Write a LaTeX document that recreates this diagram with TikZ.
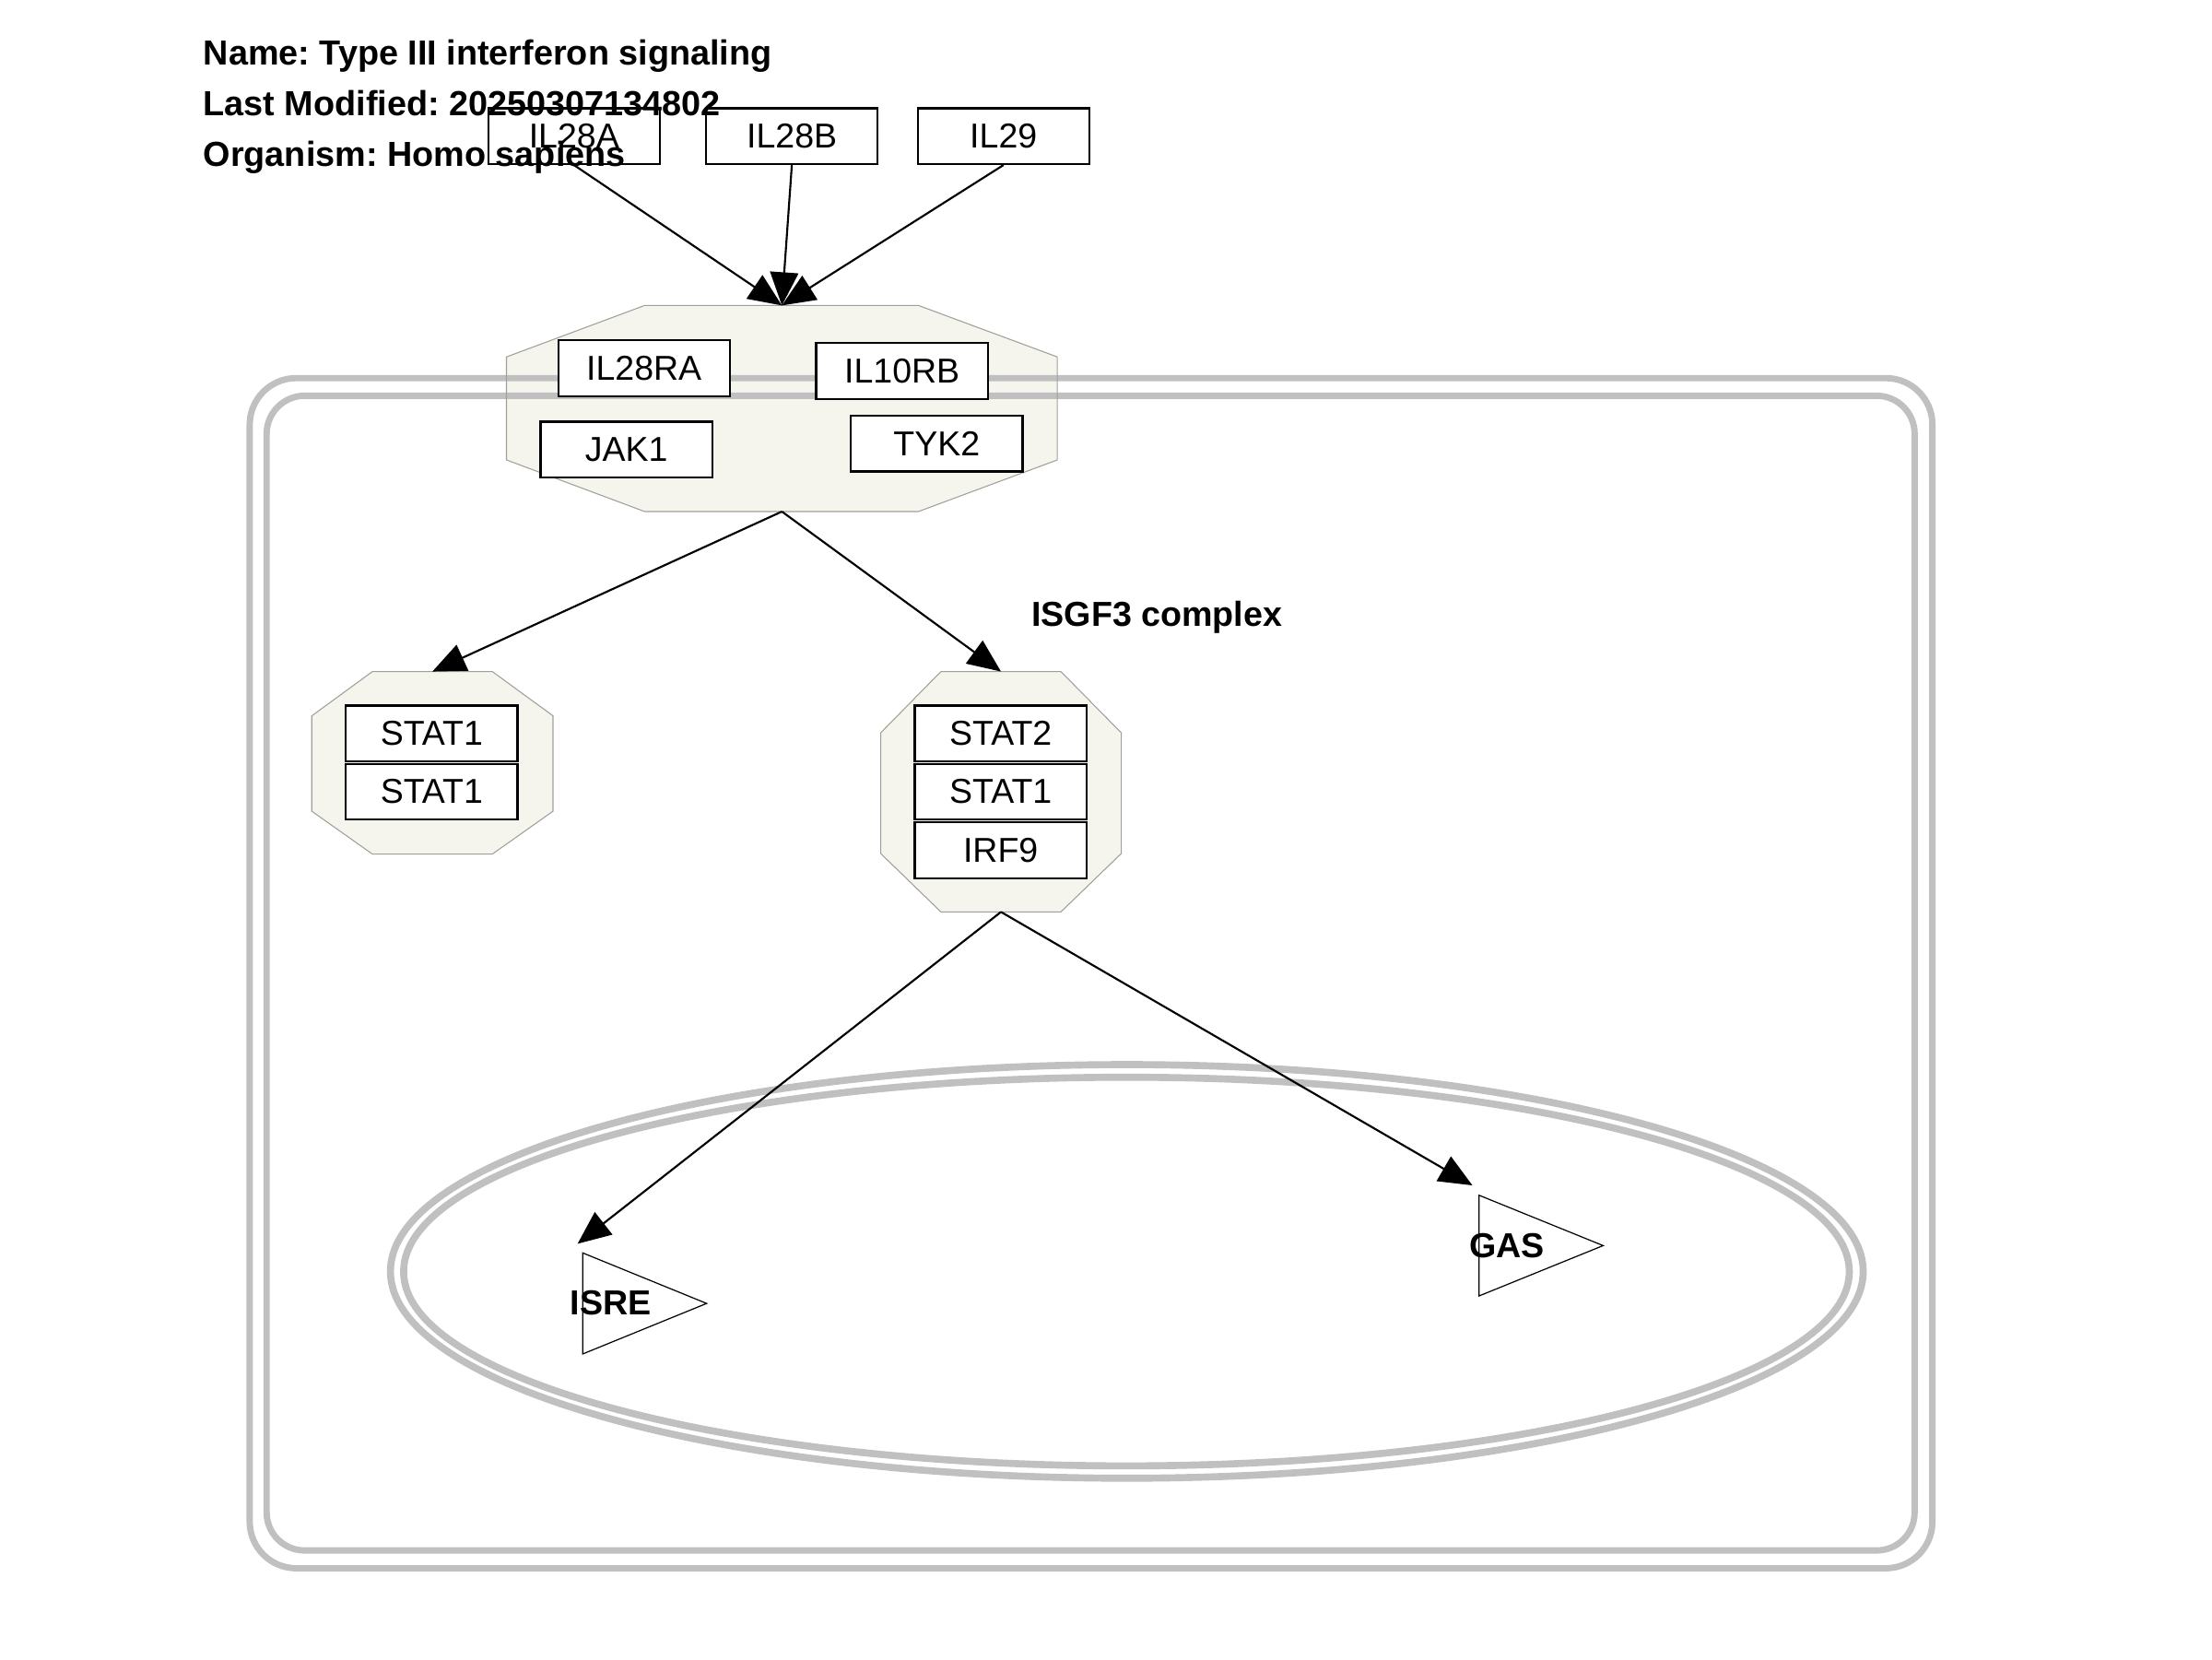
\documentclass[tikz,border=0pt]{standalone}
\usepackage{fontspec}
\setmainfont{Liberation Sans}
\usetikzlibrary{arrows.meta}
\definecolor{memb}{RGB}{192,192,192}
\definecolor{cfill}{RGB}{245,245,238}
\definecolor{cline}{RGB}{160,160,155}
\frenchspacing
\begin{document}
\begin{tikzpicture}[x=1pt,y=-1pt,
  gene/.style={draw=black, line width=1.5pt, fill=white, minimum width=121.6pt, minimum height=39.5pt, inner sep=0pt, font=\fontsize{24.5}{29}\selectfont},
  hdr/.style={anchor=base west, inner sep=0pt, font=\fontsize{24.7}{29}\selectfont\bfseries},
  lbl/.style={inner sep=0pt, font=\fontsize{24.6}{29}\selectfont\bfseries},
  arr/.style={line width=1.4pt, -{Triangle[length=23.5pt,width=20pt]}},
  membrane/.style={draw=memb, line width=4.5pt},
  cplx/.style={draw=cline, line width=0.7pt},
  cplxfill/.style={fill=cfill},
  ghost/.style={inner sep=0pt, outer sep=0pt},
  tri/.style={draw=black, line width=0.8pt}
]
\useasboundingbox (0,0) rectangle (1568,1176);

% receptor complex fill (below membrane)
\path[cplxfill] (457,216.5) -- (651,216.5) -- (749.5,253) -- (749.5,326) -- (651,362.6) -- (457,362.6) -- (359,326) -- (359,253) -- cycle;

% cell compartment
\draw[membrane, rounded corners=33pt] (177,268) rectangle (1369.8,1111.6);
\draw[membrane, rounded corners=27pt] (189,280.5) rectangle (1357.2,1099);

% nucleus
\draw[membrane, line width=5pt] (798.75,901.2) ellipse [x radius=522, y radius=146.6];
\draw[membrane, line width=5pt] (798.5,901.3) ellipse [x radius=512.4, y radius=137.75];

% receptor complex outline
\draw[cplx] (457,216.5) -- (651,216.5) -- (749.5,253) -- (749.5,326) -- (651,362.6) -- (457,362.6) -- (359,326) -- (359,253) -- cycle;
\node[ghost, minimum width=390.5pt, minimum height=146.1pt] (rc) at (554.25,289.55) {};

% STAT1 dimer complex
\draw[cplx, cplxfill] (264,476) -- (349,476) -- (392,507.4) -- (392,575) -- (349,605.4) -- (264,605.4) -- (221,575) -- (221,507.4) -- cycle;
\node[ghost, minimum width=171pt, minimum height=129.4pt] (s1d) at (306.5,540.7) {};

% ISGF3 complex
\draw[cplx, cplxfill] (667,476) -- (752,476) -- (794.8,519.4) -- (794.8,605) -- (752,646.4) -- (667,646.4) -- (624.3,605) -- (624.3,519.4) -- cycle;
\node[ghost, minimum width=170.5pt, minimum height=170.4pt] (isgf) at (709.55,561.2) {};
\node[lbl, anchor=base west] (isgflbl) at (731,444) {ISGF3 complex};

% genes
\node[gene] (il28a) at (406.9,96.5) {IL28A};
\node[gene] (il28b) at (561.3,96.5) {IL28B};
\node[gene] (il29) at (711.3,96.5) {IL29};

\node[gene] (il28ra) at (456.5,261) {IL28RA};
\node[gene] (il10rb) at (639.4,263) {IL10RB};
\node[gene] (jak1) at (444,318.7) {JAK1};
\node[gene] (tyk2) at (664,314.4) {TYK2};

\node[gene] (stat1a) at (306,519.8) {STAT1};
\node[gene] (stat1b) at (306,561.2) {STAT1};

\node[gene] (stat2) at (709.3,519.8) {STAT2};
\node[gene] (stat1c) at (709.3,561.2) {STAT1};
\node[gene] (irf9) at (709.3,602.7) {IRF9};

% response elements
\node[ghost, minimum width=87.8pt, minimum height=71.6pt] (isre) at (457,923.9) {};
\draw[tri] (isre.north west) -- (isre.east) -- (isre.south west) -- cycle;
\node[lbl] (isrelbl) at (433,923.3) {ISRE};
\coordinate (isrein) at (409.4,881.6);

\node[ghost, minimum width=88pt, minimum height=71.4pt] (gas) at (1092.4,882.9) {};
\draw[tri] (gas.north west) -- (gas.east) -- (gas.south west) -- cycle;
\node[lbl] (gaslbl) at (1068.2,882.7) {GAS};
\coordinate (gasin) at (1043.7,840.2);

% connectors
\draw[arr] (il28a.south) -- (rc.north);
\draw[arr] (il28b.south) -- (rc.north);
\draw[arr] (il29.south) -- (rc.north);
\draw[arr] (rc.south) -- (s1d.north);
\draw[arr] (rc.south) -- (isgf.north);
\draw[arr] (isgf.south) -- (isrein);
\draw[arr] (isgf.south) -- (gasin);

% header
\node[hdr] (hname) at (144,45.8) {Name: Type III interferon signaling};
\node[hdr] (hmod) at (144,82) {Last Modified: 20250307134802};
\node[hdr] (horg) at (144,118.2) {Organism: Homo sapiens};
\end{tikzpicture}
\end{document}
